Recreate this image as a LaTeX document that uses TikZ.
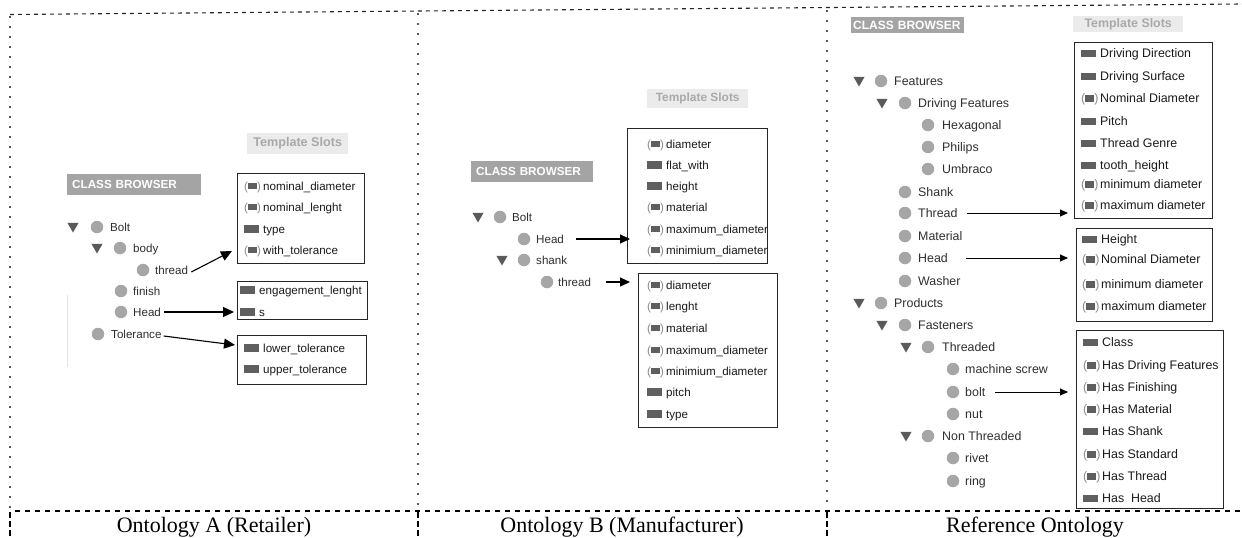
\documentclass[tikz,border=0pt]{standalone}
\usepackage{fontspec}
\setmainfont{Liberation Serif}
\setsansfont{Liberation Sans}
\usetikzlibrary{arrows.meta,shapes.geometric}
\definecolor{icongray}{HTML}{5F5F5F}
\definecolor{parengray}{HTML}{8A8A8A}
\definecolor{dotgray}{HTML}{A6A6A6}
\definecolor{trigray}{HTML}{5A5A5A}
\definecolor{treetext}{HTML}{2E2E2E}
\definecolor{cbfill}{HTML}{A4A4A4}
\definecolor{tsfill}{HTML}{EBEBEB}
\definecolor{tstext}{HTML}{A9A9A9}
\definecolor{faint}{HTML}{E2E2E2}
\newcommand{\icS}{\makebox[19pt][l]{\textcolor{icongray}{\rule[0.5pt]{15pt}{7.5pt}}}}
\newcommand{\icM}{\makebox[19pt][l]{\textcolor{parengray}{(}\textcolor{icongray}{\rule[1pt]{9pt}{6.5pt}}\textcolor{parengray}{)}}}
\begin{document}
\begin{tikzpicture}[x=1pt,y=-1pt,
  fontA/.style={font=\sffamily\fontsize{11.6}{13}\selectfont},
  fontC/.style={font=\sffamily\fontsize{12.4}{14}\selectfont},
  lblA/.style={fontA, anchor=west, inner sep=0pt, text height=8.5pt, text depth=0pt, text=treetext},
  lblC/.style={fontC, anchor=west, inner sep=0pt, text height=9pt, text depth=0pt, text=treetext},
  itemA/.style={fontA, anchor=west, inner sep=0pt, text height=8.5pt, text depth=0pt, text=black!90},
  itemC/.style={fontC, anchor=west, inner sep=0pt, text height=9pt, text depth=0pt, text=black!90},
  dot/.style={circle, fill=dotgray, minimum size=12.5pt, inner sep=0pt},
  tri/.style={regular polygon, regular polygon sides=3, shape border rotate=180, fill=trigray, minimum size=13pt, inner sep=0pt},
  slotbox/.style={draw=black!85, line width=1.2pt, inner sep=0pt, anchor=north west},
  cbox/.style={fill=cbfill, text=white, anchor=north west, inner ysep=0pt, align=left},
  tbox/.style={fill=tsfill, text=tstext, anchor=north west, inner sep=0pt},
  arrA/.style={-{Triangle[length=11pt,width=10pt]}, line width=1.1pt, black},
  arrB/.style={-{Triangle[length=10pt,width=9pt]}, line width=1.1pt, black},
  arrC/.style={-{Triangle[length=8pt,width=7pt]}, line width=0.9pt, black},
  topline/.style={line width=1.1pt, black!85, dash pattern=on 4pt off 4pt},
  vdot/.style={line width=1.3pt, black!65, dash pattern=on 2pt off 8pt},
  capline/.style={line width=2pt, black, dash pattern=on 5pt off 5pt},
  capv/.style={line width=1.6pt, black, dash pattern=on 6pt off 3pt},
  caption/.style={font=\fontsize{22}{24}\selectfont, anchor=base, inner sep=0pt}
]
\useasboundingbox (0,0) rectangle (1242,538);

% ---------- frame ----------
\draw[topline] (10,14.5) -- (1242,4);
\draw[vdot] (10,16) -- (10,508);
\draw[vdot] (418,13) -- (418,508);
\draw[vdot] (827,10) -- (827,508);
\draw[capline] (15,510.5) -- (1242,510.5);
\draw[capv] (10,512) -- (10,538);
\draw[capv] (418,512) -- (418,538);
\draw[capv] (827,512) -- (827,538);
\node[caption] (capA) at (214,532) {Ontology A (Retailer)};
\node[caption] (capB) at (622,532) {Ontology B (Manufacturer)};
\node[caption] (capC) at (1035,532) {Reference Ontology};

% ---------- Panel A ----------
\draw[faint, line width=0.8pt] (67,295) -- (67,367);
\node[tbox, minimum width=101pt, minimum height=21pt, font=\sffamily\bfseries\fontsize{12.6}{14}\selectfont] (Ats) at (247,133) {Template Slots};
\node[cbox, minimum height=21pt, text width=124pt, inner xsep=5pt, font=\sffamily\bfseries\fontsize{11.7}{13}\selectfont] (Acb) at (67,174) {CLASS BROWSER};

\node[tri] (Atr1) at (73,226) {};
\node[dot] (Ad1) at (97,227) {};
\node[lblA] (Abolt) at (110,227) {Bolt};
\node[tri] (Atr2) at (97,247) {};
\node[dot] (Ad2) at (120,248) {};
\node[lblA] (Abody) at (133,248) {body};
\node[dot] (Ad3) at (143,270) {};
\node[lblA] (Athread) at (155,270) {thread};
\node[dot] (Ad4) at (121,291) {};
\node[lblA] (Afinish) at (133,291) {finish};
\node[dot] (Ad5) at (121,312) {};
\node[lblA] (Ahead) at (133,312) {Head};
\node[dot] (Ad6) at (98,334) {};
\node[lblA] (Atol) at (111,334) {Tolerance};

\node[slotbox, minimum width=127pt, minimum height=90pt] (A1) at (237,173) {};
\node[itemA] (A1a) at (244,186) {\icM nominal\_diameter};
\node[itemA] (A1b) at (244,207) {\icM nominal\_lenght};
\node[itemA] (A1c) at (244,229) {\icS type};
\node[itemA] (A1d) at (244,250) {\icM with\_tolerance};

\node[slotbox, minimum width=130pt, minimum height=38pt] (A2) at (237,281) {};
\node[itemA] (A2a) at (240,290) {\icS engagement\_lenght};
\node[itemA] (A2b) at (240,312) {\icS s};

\node[slotbox, minimum width=129pt, minimum height=49pt] (A3) at (237,335) {};
\node[itemA] (A3a) at (244,348) {\icS lower\_tolerance};
\node[itemA] (A3b) at (244,369) {\icS upper\_tolerance};

\coordinate (A1in) at (232,251);
\coordinate (A2in) at (234,312);
\coordinate (A3in) at (235,345);
\draw[arrA] ([xshift=3pt,yshift=-2pt]Athread.east) -- (A1in);
\draw[arrA] ([xshift=3pt]Ahead.east) -- (A2in);
\draw[arrA] ([xshift=2pt,yshift=-2pt]Atol.east) -- (A3in);

% ---------- Panel B ----------
\node[tbox, minimum width=101pt, minimum height=19pt, font=\sffamily\bfseries\fontsize{11.9}{13}\selectfont] (Bts) at (647,89) {Template Slots};
\node[cbox, minimum height=21pt, text width=112pt, inner xsep=5pt, font=\sffamily\bfseries\fontsize{11.7}{13}\selectfont] (Bcb) at (471,161) {CLASS BROWSER};

\node[tri] (Btr1) at (478,216) {};
\node[dot] (Bd1) at (500,217) {};
\node[lblA] (Bbolt) at (512,217) {Bolt};
\node[dot] (Bd2) at (524,239) {};
\node[lblA] (Bhead) at (536,239) {Head};
\node[tri] (Btr2) at (502,259) {};
\node[dot] (Bd3) at (524,260) {};
\node[lblA] (Bshank) at (536,260) {shank};
\node[dot] (Bd4) at (547,282) {};
\node[lblA] (Bthread) at (558,282) {thread};

\node[slotbox, minimum width=140pt, minimum height=135pt] (B1) at (627,128) {};
\node[itemA] (B1a) at (647,144) {\icM diameter};
\node[itemA] (B1b) at (647,165) {\icS flat\_with};
\node[itemA] (B1c) at (647,186) {\icS height};
\node[itemA] (B1d) at (647,207) {\icM material};
\node[itemA] (B1e) at (647,229) {\icM maximum\_diameter};
\node[itemA] (B1f) at (647,250) {\icM minimium\_diameter};

\node[slotbox, minimum width=139pt, minimum height=154pt] (B2) at (638,273) {};
\node[itemA] (B2a) at (647,285) {\icM diameter};
\node[itemA] (B2b) at (647,306) {\icM lenght};
\node[itemA] (B2c) at (647,328) {\icM material};
\node[itemA] (B2d) at (647,350) {\icM maximum\_diameter};
\node[itemA] (B2e) at (647,371) {\icM minimium\_diameter};
\node[itemA] (B2f) at (647,392) {\icS pitch};
\node[itemA] (B2g) at (647,414) {\icS type};

\coordinate (B1in) at (630,239);
\coordinate (B2in) at (630,282);
\draw[arrB] ([xshift=12pt]Bhead.east) -- (B1in);
\draw[arrB] ([xshift=15pt]Bthread.east) -- (B2in);

% ---------- Panel C ----------
\node[cbox, minimum height=16pt, text width=109pt, inner xsep=2pt, font=\sffamily\bfseries\fontsize{12}{13}\selectfont] (Ccb) at (851,17) {CLASS BROWSER};
\node[tbox, minimum width=110pt, minimum height=16pt, font=\sffamily\bfseries\fontsize{12.4}{13}\selectfont] (Cts) at (1073,16) {Template Slots};

\node[tri] (Ct1) at (859,80) {};
\node[dot] (Cd1) at (881,81) {};
\node[lblC] (Cfeat) at (894,81) {Features};
\node[tri] (Ct2) at (882,102) {};
\node[dot] (Cd2) at (905,103) {};
\node[lblC] (Cdrive) at (918,103) {Driving Features};
\node[dot] (Cd3) at (928,125) {};
\node[lblC] (Chex) at (942,125) {Hexagonal};
\node[dot] (Cd4) at (928,147) {};
\node[lblC] (Cphil) at (942,147) {Philips};
\node[dot] (Cd5) at (928,169) {};
\node[lblC] (Cumb) at (942,169) {Umbraco};
\node[dot] (Cd6) at (905,192) {};
\node[lblC] (Cshank) at (918,192) {Shank};
\node[dot] (Cd7) at (905,213) {};
\node[lblC] (Cthread) at (918,213) {Thread};
\node[dot] (Cd8) at (905,236) {};
\node[lblC] (Cmat) at (918,236) {Material};
\node[dot] (Cd9) at (905,258) {};
\node[lblC] (Chead) at (918,258) {Head};
\node[dot] (Cd10) at (905,281) {};
\node[lblC] (Cwash) at (918,281) {Washer};
\node[tri] (Ct3) at (859,302) {};
\node[dot] (Cd11) at (881,303) {};
\node[lblC] (Cprod) at (894,303) {Products};
\node[tri] (Ct4) at (882,324) {};
\node[dot] (Cd12) at (905,325) {};
\node[lblC] (Cfast) at (918,325) {Fasteners};
\node[tri] (Ct5) at (906,346) {};
\node[dot] (Cd13) at (928,347) {};
\node[lblC] (Cthr) at (942,347) {Threaded};
\node[dot] (Cd14) at (953,369) {};
\node[lblC] (Cmach) at (965,369) {machine screw};
\node[dot] (Cd15) at (953,392) {};
\node[lblC] (Cbolt) at (965,392) {bolt};
\node[dot] (Cd16) at (953,414) {};
\node[lblC] (Cnut) at (965,414) {nut};
\node[tri] (Ct6) at (906,435) {};
\node[dot] (Cd17) at (928,436) {};
\node[lblC] (Cnon) at (942,436) {Non Threaded};
\node[dot] (Cd18) at (953,458) {};
\node[lblC] (Crivet) at (965,458) {rivet};
\node[dot] (Cd19) at (953,481) {};
\node[lblC] (Cring) at (965,481) {ring};

\node[slotbox, minimum width=138pt, minimum height=176pt] (C1) at (1074,42) {};
\node[itemC] (C1a) at (1081,53) {\icS Driving Direction};
\node[itemC] (C1b) at (1081,76) {\icS Driving Surface};
\node[itemC] (C1c) at (1081,98) {\icM Nominal Diameter};
\node[itemC] (C1d) at (1081,121) {\icS Pitch};
\node[itemC] (C1e) at (1081,143) {\icS Thread Genre};
\node[itemC] (C1f) at (1081,165) {\icS tooth\_height};
\node[itemC] (C1g) at (1081,184) {\icM minimum diameter};
\node[itemC] (C1h) at (1081,205) {\icM maximum diameter};

\node[slotbox, minimum width=136pt, minimum height=93pt] (C2) at (1076,228) {};
\node[itemC] (C2a) at (1082,239) {\icS Height};
\node[itemC] (C2b) at (1082,259) {\icM Nominal Diameter};
\node[itemC] (C2c) at (1082,284) {\icM minimum diameter};
\node[itemC] (C2d) at (1082,306) {\icM maximum diameter};

\node[slotbox, minimum width=147pt, minimum height=178pt] (C3) at (1076,330) {};
\node[itemC] (C3a) at (1083,342) {\icS Class};
\node[itemC] (C3b) at (1083,365) {\icM Has Driving Features};
\node[itemC] (C3c) at (1083,387) {\icM Has Finishing};
\node[itemC] (C3d) at (1083,409) {\icM Has Material};
\node[itemC] (C3e) at (1083,431) {\icS Has Shank};
\node[itemC] (C3f) at (1083,454) {\icM Has Standard};
\node[itemC] (C3g) at (1083,476) {\icM Has Thread};
\node[itemC] (C3h) at (1083,498) {\icS Has\ \ Head};

\coordinate (C1in) at (1068,213);
\coordinate (C2in) at (1068,258);
\coordinate (C3in) at (1068,392);
\draw[arrC] ([xshift=9pt]Cthread.east) -- (C1in);
\draw[arrC] ([xshift=18pt]Chead.east) -- (C2in);
\draw[arrC] ([xshift=10pt]Cbolt.east) -- (C3in);
\end{tikzpicture}
\end{document}
